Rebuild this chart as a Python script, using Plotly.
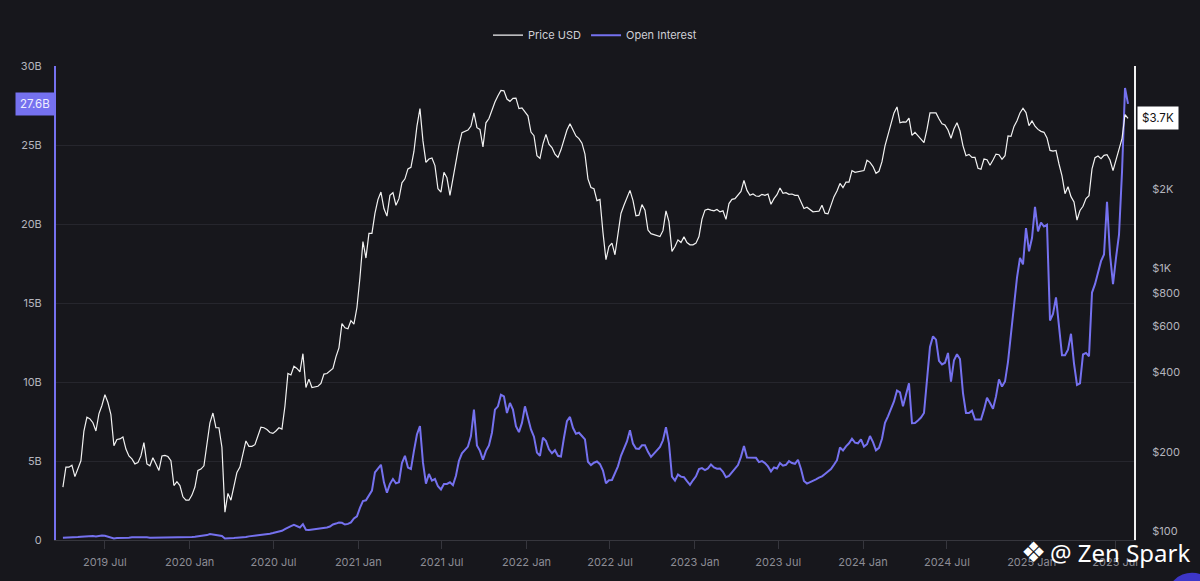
import numpy as np
import pandas as pd
import plotly.graph_objects as go

# ---------------- data ----------------
START_DATE = "2019-04-01"
END_DATE = "2025-07-29"

price_usd = [
    147, 175, 175, 178, 161, 174, 185, 240, 271, 267,
    258, 240, 279, 300, 330, 308, 277, 211, 223, 224,
    228, 205, 193, 188, 180, 182, 193, 217, 180, 177,
    190, 180, 170, 193, 194, 192, 185, 149, 154, 149,
    135, 131, 131, 137, 147, 170, 172, 177, 214, 258,
    281, 247, 247, 208, 118, 139, 131, 149, 167, 175,
    198, 220, 210, 210, 213, 230, 248, 247, 243, 237,
    235, 240, 247, 244, 298, 397, 392, 423, 415, 403,
    472, 351, 378, 351, 354, 355, 364, 395, 397, 405,
    415, 459,
    497, 615, 592, 587, 630, 612, 707, 917, 1260, 1090,
    1353, 1353, 1610, 1817, 1942, 1681, 1573, 1887, 1931, 1730,
    1833, 2106, 2180, 2377, 2412, 2770, 3458, 4030, 3037, 2518,
    2592, 2615, 2447, 1999, 1942, 2309, 2200, 1887, 2180, 2592,
    2926, 3264, 3312, 3340, 3458, 3881, 3410, 3360, 2884, 3559,
    3695, 3995, 4270, 4509, 4722, 4708, 4381, 4294, 4407, 4420,
    4030, 4053, 3926, 3782, 3283, 3180, 2668, 2607, 2960, 3217,
    2952, 2867, 2707, 2630, 2810, 3045, 3340, 3528, 3340, 3171,
    3099, 2977, 2707, 2180, 2022, 1999, 1802, 1822, 1365, 1074,
    1206,
    1242, 1122, 1353, 1610, 1730, 1833, 1970, 1807, 1578, 1587,
    1740, 1657, 1393, 1349, 1338, 1334, 1315, 1385, 1647, 1498,
    1155, 1206, 1278, 1249, 1312, 1249, 1224, 1224, 1242, 1315,
    1533, 1657, 1671, 1657, 1647, 1667, 1633, 1647, 1529, 1755,
    1822, 1833, 1898, 1953, 2149, 1970, 1887, 1909, 1876, 1870,
    1903, 1887, 1909, 1745, 1833, 1898, 2011, 1920, 1931, 1903,
    1909, 1887, 1887, 1781, 1681, 1700, 1667, 1633, 1638, 1643,
    1730, 1614, 1604, 1745, 1865, 1959, 2094, 2017, 2118, 2118,
    2343, 2309, 2322,
    2329, 2343, 2563, 2518, 2426, 2289, 2329, 2533, 2909, 3189,
    3559, 3881, 4088, 3559, 3590, 3580, 3706, 3189, 3274, 3171,
    3090, 2994, 3360, 3881, 3881, 3881, 3685, 3528, 3489, 3340,
    3108, 3380, 3559, 3312, 2909, 2668, 2699, 2630, 2630, 2391,
    2370, 2592, 2577, 2454, 2570, 2707, 2691, 2585, 2668, 3171,
    3162, 3448, 3621, 3881, 4041, 3892, 3469, 3621, 3458, 3360,
    3302, 3274, 3117, 2794, 2778, 2794, 2482, 2237, 1914, 2034,
    1865, 1781, 1520, 1652, 1715, 1833, 1881, 2377, 2622, 2660,
    2600, 2676, 2691, 2570, 2343, 2570, 2786, 3099, 3826, 3700,
]

open_interest_b = [
    0.15, 0.15, 0.17, 0.17, 0.19, 0.19, 0.21, 0.23, 0.21, 0.23,
    0.25, 0.23, 0.27, 0.29, 0.27, 0.21, 0.12, 0.10, 0.12, 0.12,
    0.13, 0.15, 0.15, 0.17, 0.17, 0.19, 0.21, 0.19, 0.17, 0.15,
    0.15, 0.17, 0.15, 0.17, 0.15, 0.15, 0.17, 0.15, 0.17, 0.19,
    0.17, 0.15, 0.17, 0.19, 0.21, 0.23, 0.25, 0.27, 0.31, 0.38,
    0.35, 0.31, 0.29, 0.25, 0.10, 0.10, 0.12, 0.12, 0.15, 0.15,
    0.17, 0.19, 0.23, 0.25, 0.29, 0.31, 0.33, 0.35, 0.38, 0.40,
    0.44, 0.48, 0.52, 0.58, 0.69, 0.80, 0.88, 0.96, 0.85, 0.79,
    1.00, 0.65, 0.63, 0.65, 0.67, 0.69, 0.71, 0.75, 0.79, 0.85,
    0.98, 1.04,
    1.11, 1.09, 0.98, 1.02, 1.11, 1.36, 1.50, 2.03, 2.46, 2.51,
    2.86, 3.13, 4.28, 4.55, 4.76, 3.65, 2.99, 3.55, 3.86, 3.59,
    3.65, 4.87, 5.33, 4.59, 4.49, 5.64, 6.68, 7.21, 4.91, 3.57,
    4.18, 3.76, 3.86, 3.40, 3.20, 3.55, 3.55, 3.65, 3.47, 4.07,
    5.01, 5.49, 5.70, 5.91, 6.58, 8.25, 5.99, 5.64, 5.08, 5.64,
    5.99, 6.79, 8.25, 8.46, 9.19, 9.09, 8.04, 8.67, 8.25, 7.21,
    6.83, 7.41, 8.46, 7.73, 7.00, 6.54, 5.53, 5.33, 6.47, 6.27,
    5.74, 5.49, 5.68, 5.33, 5.28, 6.47, 7.52, 7.79, 7.10, 6.73,
    6.79, 6.58, 6.37, 4.95, 4.74, 4.89, 4.97, 4.80, 4.39, 3.59,
    3.78,
    3.80, 4.28, 4.66, 5.33, 5.85, 6.24, 6.95, 6.10, 5.79, 5.76,
    5.99, 5.99, 5.58, 5.26, 5.47, 5.68, 5.89, 6.31, 7.14, 6.12,
    4.01, 3.76, 4.14, 4.01, 3.97, 3.72, 3.49, 3.78, 4.03, 4.49,
    4.55, 4.43, 4.53, 4.78, 4.59, 4.51, 4.53, 4.32, 3.97, 4.05,
    4.30, 4.53, 4.74, 5.26, 5.95, 5.22, 5.22, 5.20, 5.20, 4.93,
    4.99, 4.87, 4.66, 4.34, 4.59, 4.53, 4.87, 4.70, 4.76, 4.99,
    4.87, 4.82, 5.08, 4.49, 3.74, 3.57, 3.65, 3.76, 3.84, 3.95,
    4.03, 4.18, 4.32, 4.49, 4.76, 5.05, 5.85, 5.66, 5.93, 6.12,
    6.41, 6.16, 6.12,
    6.37, 5.91, 6.06, 6.58, 6.20, 5.68, 5.83, 6.41, 7.41, 7.83,
    8.29, 8.77, 9.46, 9.34, 8.46, 9.25, 9.92, 7.39, 7.41, 7.56,
    7.75, 8.04, 10.03, 12.22, 12.89, 12.68, 11.34, 11.11, 11.22, 11.84,
    10.03, 11.38, 11.76, 11.45, 9.29, 8.04, 8.04, 8.19, 7.62, 7.62,
    7.62, 8.25, 9.00, 8.67, 8.31, 9.09, 10.17, 9.71, 10.03, 11.28,
    13.18, 14.72, 16.60, 17.86, 17.44, 19.74, 18.27, 19.11, 21.09, 19.53,
    20.09, 19.84, 19.95, 13.89, 14.31, 15.35, 13.47, 11.70, 11.70, 12.05,
    13.05, 11.17, 9.82, 9.92, 11.74, 11.84, 11.63, 15.66, 16.19, 17.02,
    17.65, 18.07, 21.41, 18.07, 16.19, 17.86, 19.32, 23.29, 28.61, 27.6,
]

oi_tick_vals = [0, 5, 10, 15, 20, 25, 30]
oi_tick_text = ["0", "5B", "10B", "15B", "20B", "25B", "30B"]
price_tick_vals = [100, 200, 400, 600, 800, 1000, 2000]
price_tick_text = ["$100", "$200", "$400", "$600", "$800", "$1K", "$2K"]

# ---------------- styling ----------------
BG = "#17171c"
BLUE = "#7571ef"
WHITE = "#f2f2f2"
GRID = "#26262d"
AXIS_GREY = "#36363d"

dates_price = pd.date_range(START_DATE, END_DATE, periods=len(price_usd))
dates_oi = pd.date_range(START_DATE, END_DATE, periods=len(open_interest_b))

fig = go.Figure()
fig.add_trace(go.Scatter(
    x=dates_oi, y=open_interest_b, name="Open Interest", mode="lines",
    line=dict(color=BLUE, width=2), yaxis="y", legendrank=2,
))
fig.add_trace(go.Scatter(
    x=dates_price, y=price_usd, name="Price USD", mode="lines",
    line=dict(color=WHITE, width=1.2), yaxis="y2", legendrank=1,
))

last_oi = open_interest_b[-1]
last_price = price_usd[-1]

fig.update_layout(
    width=1200, height=581,
    paper_bgcolor=BG, plot_bgcolor=BG,
    margin=dict(l=56, r=66, t=66, b=36),
    font=dict(family="Inter, Roboto, sans-serif", color="#a9a9b2", size=11),
    showlegend=True,
    legend=dict(orientation="h", x=0.5, xanchor="center", y=1.065, yanchor="middle",
                font=dict(color="#cfcfd6", size=11), bgcolor="rgba(0,0,0,0)",
                itemwidth=30),
    xaxis=dict(type="date", range=["2019-03-17", "2025-08-11"],
               tick0="2019-07-01", dtick="M6", tickformat="%Y %b",
               showgrid=False, showline=True, linecolor=AXIS_GREY, linewidth=1,
               ticks="outside", ticklen=8, tickcolor=AXIS_GREY,
               tickfont=dict(color="#8c8c95", size=11), zeroline=False,
               ticklabelstandoff=4),
    yaxis=dict(range=[0, 30], tickvals=oi_tick_vals, ticktext=oi_tick_text,
               showgrid=True, gridcolor=GRID, gridwidth=1,
               showline=True, linecolor=BLUE, linewidth=2, zeroline=False,
               ticks="", ticklabelstandoff=10,
               tickfont=dict(color="#b4b4bc", size=11)),
    yaxis2=dict(type="log", range=[np.log10(92.5), np.log10(5850)],
                overlaying="y", side="right", showgrid=False,
                showline=True, linecolor="#f0f0f0", linewidth=2, zeroline=False,
                tickvals=price_tick_vals, ticktext=price_tick_text,
                ticks="", ticklabelstandoff=14,
                tickfont=dict(color="#b4b4bc", size=11)),
    annotations=[
        dict(xref="paper", yref="y", x=0, y=last_oi, xanchor="right", yanchor="middle",
             text=f"{last_oi:.1f}B", showarrow=False, bgcolor=BLUE,
             font=dict(color="#eeeeff", size=11.5), borderpad=4, xshift=-1),
        dict(xref="paper", yref="y2", x=1, y=np.log10(last_price), xanchor="left",
             yanchor="middle", text=f"${last_price / 1000:.1f}K", showarrow=False,
             bgcolor="#ffffff", font=dict(color="#111111", size=11.5), borderpad=4,
             xshift=3),
        dict(xref="paper", yref="paper", x=1.0535, y=-0.026, xanchor="right",
             yanchor="middle", text="@ Zen Spark", showarrow=False,
             font=dict(color="#ffffff", size=24, family="Noto Sans")),
        dict(xref="paper", yref="paper", x=0.9072, y=-0.026, xanchor="center",
             yanchor="middle", text="\u2756", showarrow=False,
             font=dict(color="#ffffff", size=28, family="DejaVu Sans")),
    ],
    shapes=[
        dict(type="circle", xref="paper", yref="paper",
             x0=1.0306, x1=1.077, y0=-0.1733, y1=-0.0689,
             fillcolor="#3d36c8", line=dict(width=0), layer="above"),
    ],
)

fig.write_html("out.html", config={"displayModeBar": False},
               post_script="document.body.style.margin='0';document.body.style.overflow='hidden';")
